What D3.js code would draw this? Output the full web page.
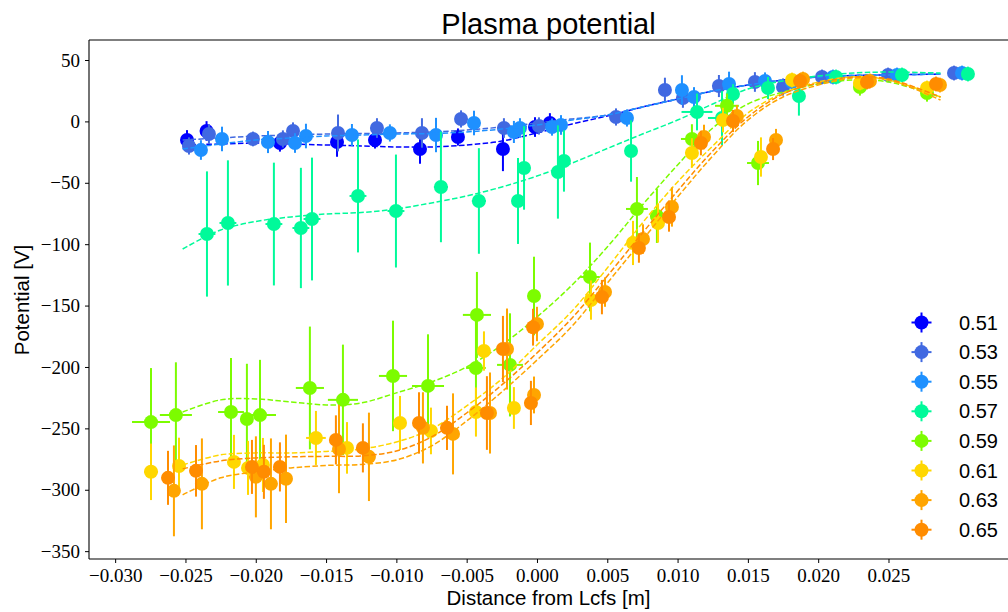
<!DOCTYPE html>
<html>
<head>
<meta charset="utf-8">
<script src="https://cdn.jsdelivr.net/npm/d3@7"></script>
<style>
  body { margin: 0; background: #fff; }
  svg { display: block; }
  .tick text { font-family: "Liberation Serif", serif; font-size: 19px; fill: #000; }
</style>
</head>
<body>
<div id="chart"></div>
<script>
// legend labels and colours
const labels = ["0.51", "0.53", "0.55", "0.57", "0.59", "0.61", "0.63", "0.65"];
const colors = ["#0000ff", "#4169e1", "#1e90ff", "#00fa9a", "#7cfc00", "#ffd700", "#ffa500", "#ff8c00"];

const xTicks = [-0.030, -0.025, -0.020, -0.015, -0.010, -0.005, 0.000, 0.005, 0.010, 0.015, 0.020, 0.025];
const yTicks = [-350, -300, -250, -200, -150, -100, -50, 0, 50];

// 0.51
const dist51 = [-0.02489, -0.0235, -0.01828, -0.01422, -0.01152, -0.00832, -0.00562, -0.00242, -0.00014, 0.00092];
const pot51  = [-15.1, -7.8, -17.6, -16.8, -15.1, -22.5, -12.7, -22.5, -4.6, -1.3];
const err51  = [8, 8, 7, 12, 7, 12, 7, 18, 8, 8];
const xerr51 = [0.0003, 0.0003, 0.0003, 0.0003, 0.0003, 0.0003, 0.0003, 0.0003, 0.0003, 0.0003];

// 0.53
const dist53 = [-0.02475, -0.02333, -0.0202, -0.01807, -0.01735, -0.01415, -0.01138, -0.00818, -0.0054, -0.00235, 0.00014, 0.00562, 0.0091, 0.01038, 0.01294, 0.0155, 0.0175, 0.02027, 0.02497, 0.02966];
const pot53  = [-20.0, -10.3, -14.3, -14.3, -7.8, -9.4, -5.4, -9.4, 2.0, -5.4, -3.7, 3.6, 25.6, 19.1, 28.8, 32.1, 28.0, 36.2, 37.8, 39.4];
const err53  = [7, 8, 6, 7, 7, 15, 8, 12, 7, 8, 7, 7, 10, 8, 9, 8, 7, 6, 6, 6];
const xerr53 = [0.0003, 0.0003, 0.0003, 0.0003, 0.0003, 0.0003, 0.0003, 0.0003, 0.0003, 0.0003, 0.0003, 0.0003, 0.0003, 0.0003, 0.0003, 0.0003, 0.0003, 0.0003, 0.0003, 0.0003];

// 0.55
const dist55 = [-0.0239, -0.0224, -0.01913, -0.01721, -0.01643, -0.01316, -0.01046, -0.00718, -0.00448, -0.00164, -0.00121, 0.00107, 0.00171, 0.0064, 0.01031, 0.01117, 0.01366, 0.01622, 0.01814, 0.02105, 0.0256, 0.03023];
const pot55  = [-23.3, -14.3, -16.8, -17.6, -11.9, -11.1, -9.4, -11.1, -1.3, -8.6, -5.4, -4.6, -2.9, 2.8, 25.6, 19.9, 30.5, 32.9, 32.1, 36.2, 37.8, 39.4];
const err55  = [8, 10, 9, 8, 10, 9, 7, 14, 10, 9, 8, 7, 8, 7, 12, 8, 10, 7, 7, 6, 6, 6];
const xerr55 = [0.0003, 0.0003, 0.0003, 0.0003, 0.0003, 0.0003, 0.0003, 0.0003, 0.0003, 0.0003, 0.0003, 0.0003, 0.0003, 0.0003, 0.0003, 0.0003, 0.0003, 0.0003, 0.0003, 0.0003, 0.0003, 0.0003];

// 0.57
const dist57 = [-0.02347, -0.02198, -0.01871, -0.01679, -0.016, -0.01273, -0.01003, -0.00683, -0.00413, -0.00135, -0.00092, 0.00149, 0.00192, 0.00669, 0.01138, 0.01316, 0.01394, 0.01643, 0.01863, 0.02127, 0.02596, 0.03065];
const pot57  = [-91.7, -82.7, -83.6, -86.8, -79.5, -60.7, -73.0, -53.4, -64.8, -64.8, -37.9, -41.2, -32.2, -24.1, 7.7, 2.8, 22.3, 27.2, 20.7, 36.2, 37.8, 38.6];
const err57  = [51, 51, 50, 49, 50, 46, 46, 45, 43, 35, 34, 38, 25, 25, 15, 22, 8, 9, 16, 6, 6, 6];
const xerr57 = [0.0006, 0.0006, 0.0006, 0.0006, 0.0006, 0.0006, 0.0006, 0.0005, 0.0005, 0.0004, 0.0004, 0.0004, 0.0004, 0.0004, 0.0011, 0.001, 0.0004, 0.0004, 0.0004, 0.0003, 0.0003, 0.0003];

// 0.59
const dist59 = [-0.02745, -0.02568, -0.02176, -0.02063, -0.0197, -0.01615, -0.0138, -0.01024, -0.00775, -0.00427, -0.00434, -0.00192, -0.00021, 0.00377, 0.00711, 0.00853, 0.01102, 0.01351, 0.01572, 0.02297, 0.02774];
const pot59  = [-244.9, -239.2, -236.7, -242.4, -239.2, -217.1, -226.8, -207.3, -215.4, -157.6, -200.8, -198.3, -142.2, -126.7, -71.3, -77.0, -14.3, 12.7, -33.9, 28.0, 23.1];
const err59  = [44, 43, 44, 45, 45, 50, 45, 45, 42, 35, 40, 42, 32, 28, 26, 22, 12, 10, 18, 7, 7];
const xerr59 = [0.00135, 0.00114, 0.00092, 0.0004, 0.00114, 0.001, 0.00107, 0.001, 0.00114, 0.001, 0.0007, 0.00092, 0.0003, 0.0007, 0.00078, 0.0004, 0.00078, 0.00085, 0.00078, 0.0004, 0.0004];

// 0.61
const dist61 = [-0.02745, -0.02546, -0.02155, -0.02055, -0.01949, -0.01572, -0.01351, -0.00974, -0.00754, -0.00434, -0.00377, -0.00164, 0.00384, 0.00683, 0.00861, 0.01102, 0.01323, 0.01593, 0.01814, 0.02297, 0.02774];
const pot61  = [-285.4, -280.6, -277.3, -282.2, -279.8, -257.8, -265.9, -245.6, -252.1, -236.7, -187.0, -233.4, -145.5, -99.0, -82.7, -25.7, 1.1, -29.0, 33.7, 31.3, 27.2];
const err61  = [23, 23, 22, 22, 22, 22, 21, 22, 19, 20, 16, 17, 16, 18, 16, 12, 10, 16, 6, 6, 6];
const xerr61 = [0.0005, 0.0004, 0.0004, 0.0004, 0.0004, 0.0007, 0.0004, 0.0004, 0.0004, 0.0004, 0.0004, 0.0004, 0.0004, 0.0004, 0.0004, 0.0004, 0.0004, 0.0004, 0.0004, 0.0004, 0.0004];

// 0.63
const dist63 = [-0.02582, -0.02383, -0.01999, -0.01892, -0.01785, -0.01408, -0.01195, -0.00811, -0.00597, -0.00334, -0.00213, 0.0, -0.00021, 0.00484, 0.00754, 0.0096, 0.01188, 0.01422, 0.017, 0.01892, 0.02368, 0.02866];
const pot63  = [-300.9, -295.2, -289.5, -295.2, -291.1, -266.8, -273.2, -249.6, -254.5, -237.5, -185.4, -165.0, -222.8, -139.0, -95.8, -69.7, -12.7, 4.4, -15.1, 34.5, 32.9, 29.6];
const err63  = [37, 37, 33, 37, 36, 36, 36, 29, 33, 33, 33, 14, 15, 12, 12, 16, 10, 9, 9, 6, 6, 6];
const xerr63 = [0.0004, 0.0004, 0.0004, 0.0004, 0.0004, 0.0004, 0.0004, 0.0004, 0.0004, 0.0004, 0.0004, 0.0004, 0.0004, 0.0004, 0.0004, 0.0004, 0.0004, 0.0004, 0.0004, 0.0004, 0.0004, 0.0004];

// 0.65
const dist65 = [-0.02624, -0.02425, -0.02027, -0.01942, -0.01828, -0.0143, -0.01238, -0.00839, -0.0064, -0.00356, -0.00242, -0.00028, -0.00043, 0.00462, 0.00725, 0.00939, 0.01166, 0.01394, 0.01679, 0.01871, 0.02347, 0.02838];
const pot65  = [-290.3, -284.6, -281.4, -285.4, -281.4, -259.4, -265.9, -245.6, -249.6, -237.5, -185.4, -167.6, -229.3, -143.1, -103.1, -77.8, -17.6, 0.3, -22.5, 32.9, 32.1, 30.5];
const err65  = [22, 21, 22, 22, 20, 20, 20, 25, 18, 30, 27, 15, 18, 14, 12, 12, 10, 9, 9, 6, 6, 6];
const xerr65 = [0.0004, 0.0004, 0.0004, 0.0004, 0.0004, 0.0004, 0.0004, 0.0004, 0.0004, 0.0004, 0.0004, 0.0004, 0.0004, 0.0004, 0.0004, 0.0004, 0.0004, 0.0004, 0.0004, 0.0004, 0.0004, 0.0004];

// fitted curves at these distances
const fitGrid = [-0.0252, -0.0225, -0.02, -0.0175, -0.015, -0.0125, -0.01, -0.0075, -0.005, -0.0025, 0, 0.0025, 0.005, 0.0075, 0.01, 0.0125, 0.015, 0.0175, 0.02, 0.0225, 0.025, 0.0287];
const fit51 = [-19.2, -18.4, -17.6, -18.4, -19.2, -20.0, -20.8, -20.8, -19.2, -16.0, -9.4, -2.1, 4.4, 11.7, 18.2, 24.8, 29.6, 33.7, 36.2, 37.4, 37.8, 38.6];
const fit53 = [-15.1, -13.5, -11.9, -11.1, -10.3, -9.9, -9.4, -8.6, -7.0, -4.6, -1.3, 2.0, 5.2, 11.7, 18.2, 24.8, 29.6, 33.7, 36.2, 37.4, 37.8, 38.6];
const fit55 = [-22.5, -18.4, -15.1, -13.5, -11.9, -11.1, -10.3, -9.9, -8.6, -6.2, -2.9, 1.1, 5.2, 11.7, 18.2, 24.8, 29.6, 33.7, 36.2, 37.4, 37.8, 38.6];
const fit57 = [-103.9, -88.4, -81.5, -77.8, -75.4, -74.2, -71.3, -66.4, -60.7, -53.4, -44.5, -33.9, -22.1, -10.3, 1.1, 14.2, 26.4, 32.9, 37.0, 39.4, 40.2, 39.4];
const fit59 = [-236.7, -226.8, -226.0, -228.5, -230.9, -229.3, -221.1, -212.2, -200.0, -182.1, -159.3, -133.2, -102.3, -68.1, -35.5, -5.4, 14.2, 23.9, 30.5, 33.7, 32.1, 19.9];
const fit61 = [-279.8, -271.6, -270.0, -270.0, -268.8, -266.8, -261.1, -250.5, -231.7, -209.7, -182.1, -154.4, -119.4, -82.7, -49.3, -20.0, 6.8, 23.1, 32.1, 36.2, 33.7, 19.9];
const fit63 = [-304.2, -290.3, -285.4, -282.2, -280.2, -279.4, -275.7, -264.3, -244.0, -220.3, -194.4, -166.7, -131.7, -96.6, -61.6, -28.2, 1.1, 19.9, 29.6, 35.3, 33.7, 17.4];
const fit65 = [-283.0, -276.5, -274.1, -273.2, -272.8, -272.4, -268.4, -257.0, -237.5, -214.6, -188.6, -160.1, -125.9, -90.9, -56.7, -24.1, 3.6, 22.3, 31.3, 36.2, 34.5, 19.9];

const series = [
  { x: dist51, y: pot51, yerr: err51, xerr: xerr51, fit: fit51 },
  { x: dist53, y: pot53, yerr: err53, xerr: xerr53, fit: fit53 },
  { x: dist55, y: pot55, yerr: err55, xerr: xerr55, fit: fit55 },
  { x: dist57, y: pot57, yerr: err57, xerr: xerr57, fit: fit57 },
  { x: dist59, y: pot59, yerr: err59, xerr: xerr59, fit: fit59 },
  { x: dist61, y: pot61, yerr: err61, xerr: xerr61, fit: fit61 },
  { x: dist63, y: pot63, yerr: err63, xerr: xerr63, fit: fit63 },
  { x: dist65, y: pot65, yerr: err65, xerr: xerr65, fit: fit65 }
];

const width = 1008, height = 612;
const mLeft = 89, mRight = 1008, mTop = 40, mBottom = 559;

const svg = d3.select("#chart").append("svg")
  .attr("width", width)
  .attr("height", height);

const x = d3.scaleLinear().domain([-0.03186, 0.0335]).range([mLeft, mRight]);
const y = d3.scaleLinear().domain([66.3, -356.4]).range([mTop, mBottom]);

svg.append("clipPath").attr("id", "clip")
  .append("rect").attr("x", mLeft).attr("y", mTop).attr("width", mRight - mLeft).attr("height", mBottom - mTop);
const plot = svg.append("g").attr("clip-path", "url(#clip)");

const line = d3.line()
  .x((d, i) => x(fitGrid[i]))
  .y(d => y(d))
  .curve(d3.curveCatmullRom.alpha(0.5));

series.forEach((s, k) => {
  const c = colors[k];
  const g = plot.append("g");
  const pts = s.x.map((v, i) => ({ x: v, y: s.y[i], ey: s.yerr[i], ex: s.xerr[i] }));

  // error bars
  g.selectAll(".ey").data(pts).enter().append("line")
    .attr("x1", d => x(d.x)).attr("x2", d => x(d.x))
    .attr("y1", d => y(d.y - d.ey)).attr("y2", d => y(d.y + d.ey))
    .attr("stroke", c).attr("stroke-width", 2);
  g.selectAll(".ex").data(pts).enter().append("line")
    .attr("x1", d => x(d.x - d.ex)).attr("x2", d => x(d.x + d.ex))
    .attr("y1", d => y(d.y)).attr("y2", d => y(d.y))
    .attr("stroke", c).attr("stroke-width", 2);

  // markers
  g.selectAll("circle").data(pts).enter().append("circle")
    .attr("cx", d => x(d.x)).attr("cy", d => y(d.y))
    .attr("r", 7)
    .attr("fill", c);

  // fit
  g.append("path")
    .datum(s.fit)
    .attr("fill", "none")
    .attr("stroke", c)
    .attr("stroke-width", 1.5)
    .attr("stroke-dasharray", "5.5,2.4")
    .attr("d", line);
});

// axes
const xAxis = svg.append("g")
  .attr("transform", "translate(0," + mBottom + ")")
  .call(d3.axisBottom(x).tickValues(xTicks).tickFormat(d3.format(".3f")).tickSize(4).tickPadding(6));
const yAxis = svg.append("g")
  .attr("transform", "translate(" + mLeft + ",0)")
  .call(d3.axisLeft(y).tickValues(yTicks).tickFormat(d3.format("d")).tickSize(4).tickPadding(5));
[xAxis, yAxis].forEach(a => {
  a.select(".domain").remove();
  a.selectAll(".tick line").attr("stroke", "#000").attr("stroke-width", 1);
});

// spines
svg.append("line").attr("x1", mLeft).attr("x2", mRight).attr("y1", mTop).attr("y2", mTop)
  .attr("stroke", "#000").attr("stroke-width", 1.1);
svg.append("line").attr("x1", mLeft).attr("x2", mRight).attr("y1", mBottom).attr("y2", mBottom)
  .attr("stroke", "#000").attr("stroke-width", 1.1);
svg.append("line").attr("x1", mLeft).attr("x2", mLeft).attr("y1", mTop).attr("y2", mBottom)
  .attr("stroke", "#000").attr("stroke-width", 1.1);

// title and labels
svg.append("text")
  .attr("x", (mLeft + mRight) / 2).attr("y", 34)
  .attr("text-anchor", "middle")
  .style("font-family", "Liberation Sans, Arial, sans-serif")
  .style("font-size", "29px")
  .text("Plasma potential");

svg.append("text")
  .attr("x", (mLeft + mRight) / 2).attr("y", 605)
  .attr("text-anchor", "middle")
  .style("font-family", "Liberation Sans, Arial, sans-serif")
  .style("font-size", "20.5px")
  .text("Distance from Lcfs [m]");

svg.append("text")
  .attr("transform", "translate(29,300) rotate(-90)")
  .attr("text-anchor", "middle")
  .style("font-family", "Liberation Sans, Arial, sans-serif")
  .style("font-size", "20.5px")
  .text("Potential [V]");

// legend
const legend = svg.append("g");
labels.forEach((lab, k) => {
  const ly = 322.5 + k * 29.6;
  const lx = 921.5;
  legend.append("line").attr("x1", lx - 10).attr("x2", lx + 10).attr("y1", ly).attr("y2", ly)
    .attr("stroke", colors[k]).attr("stroke-width", 2);
  legend.append("line").attr("x1", lx).attr("x2", lx).attr("y1", ly - 10).attr("y2", ly + 10)
    .attr("stroke", colors[k]).attr("stroke-width", 2);
  legend.append("circle").attr("cx", lx).attr("cy", ly).attr("r", 7).attr("fill", colors[k]);
  legend.append("text")
    .attr("x", 959).attr("y", ly + 7)
    .style("font-family", "Liberation Sans, Arial, sans-serif")
    .style("font-size", "20px")
    .text(lab);
});
</script>
</body>
</html>
